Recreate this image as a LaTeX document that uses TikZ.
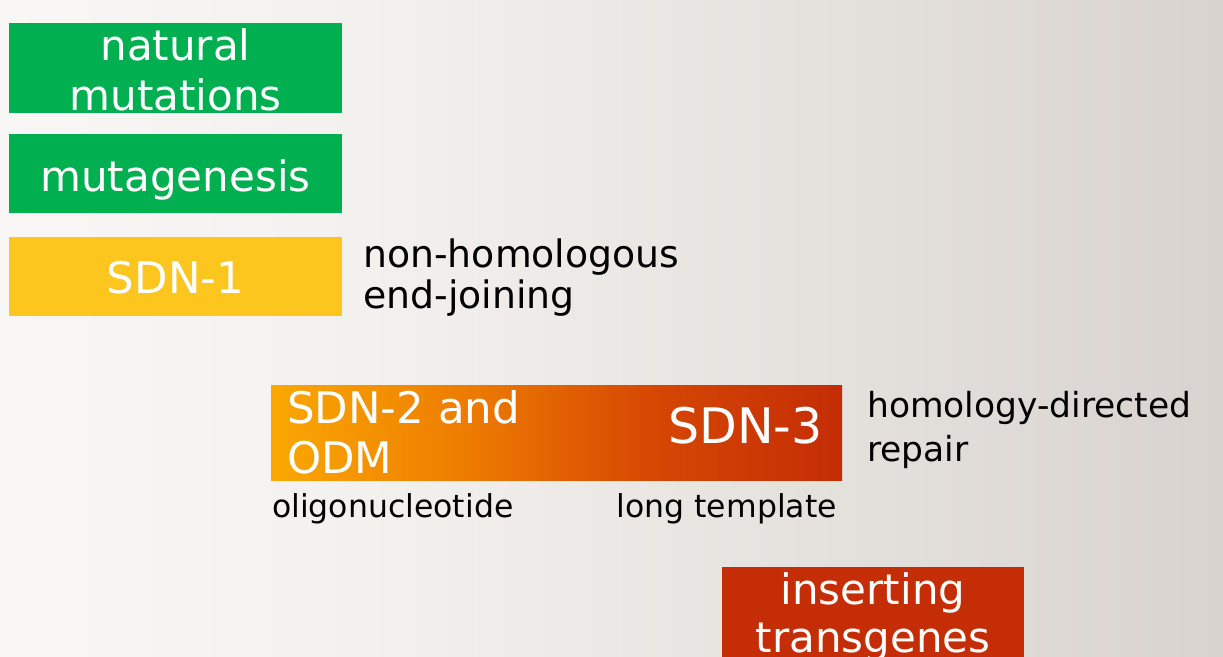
\documentclass[tikz,border=0pt]{standalone}
\usepackage{fontspec}
\setmainfont{DejaVu Sans}
\definecolor{bgL}{RGB}{249,247,245}
\definecolor{bgM}{RGB}{243,241,238}
\definecolor{bgR}{RGB}{216,211,206}
\definecolor{boxgreen}{RGB}{0,176,80}
\definecolor{boxyellow}{RGB}{252,198,30}
\definecolor{boxred}{RGB}{196,45,5}
\definecolor{orA}{RGB}{250,168,0}
\definecolor{orB}{RGB}{238,124,0}
\definecolor{orC}{RGB}{214,72,3}
\pgfdeclarehorizontalshading{bgshade}{100bp}{color(0bp)=(bgL); color(25bp)=(bgL); color(40bp)=(bgM); color(75bp)=(bgR); color(100bp)=(bgR)}
\pgfdeclarehorizontalshading{orshade}{100bp}{color(0bp)=(orA); color(25bp)=(orA); color(42bp)=(orB); color(58bp)=(orC); color(75bp)=(boxred); color(100bp)=(boxred)}
\tikzset{
  box/.style={draw=none, inner sep=0pt, minimum width=#1},
  boxtext/.style={text=white, font=\fontsize{42}{50}\selectfont, inner sep=0pt, anchor=base},
  sidetext/.style={text=black, font=\fontsize{34.5}{41}\selectfont, inner sep=0pt, anchor=base west, align=left},
  smalltext/.style={text=black, font=\fontsize{31.5}{37}\selectfont, inner sep=0pt, anchor=base},
}
\begin{document}
\begin{tikzpicture}[x=1pt,y=-1pt]
\useasboundingbox (0,0) rectangle (1223,656);
\clip (0,0) rectangle (1223,656);
\shade[shading=bgshade] (0,0) rectangle (1223,656);
% boxes
\fill[boxgreen] (9,23) rectangle (342,113);
\node[box=333pt, minimum height=90pt, anchor=north west] (bnat) at (9,23) {};
\fill[boxgreen] (9,134) rectangle (342,213);
\node[box=333pt, minimum height=79pt, anchor=north west] (bmut) at (9,134) {};
\fill[boxyellow] (9,237) rectangle (342,316);
\node[box=333pt, minimum height=79pt, anchor=north west] (bsdn1) at (9,237) {};
\shade[shading=orshade] (271,385) rectangle (842,480);
\node[box=571pt, minimum height=95pt, anchor=north west] (bsdn23) at (271,385) {};
\fill[boxred] (722,567) rectangle (1024,700);
\node[box=302pt, minimum height=133pt, anchor=north west] (bins) at (722,567) {};
% box texts
\node[boxtext] (tnat1) at (175.5,60) {natural};
\node[boxtext] (tnat2) at (175.5,110) {mutations};
\node[boxtext] (tmut) at (175.5,191) {mutagenesis};
\node[boxtext, font=\fontsize{43.5}{52}\selectfont] (tsdn1) at (175.5,293) {SDN-1};
\node[boxtext, anchor=base west, font=\fontsize{43.5}{52}\selectfont] (tsdn2a) at (287,423) {SDN-2 and};
\node[boxtext, anchor=base west, font=\fontsize{43.5}{52}\selectfont] (tsdn2b) at (287,473) {ODM};
\node[boxtext, anchor=base east, font=\fontsize{49}{57}\selectfont] (tsdn3) at (823,443) {SDN-3};
\node[boxtext] (tins1) at (873,604) {inserting};
\node[boxtext] (tins2) at (873,652) {transgenes};
% side texts
\node[sidetext, font=\fontsize{37.8}{45}\selectfont] (nh1) at (363,267) {non-homologous};
\node[sidetext, font=\fontsize{37.8}{45}\selectfont] (nh2) at (363,308) {end-joining};
\node[sidetext] (hd1) at (867,417) {homology-directed};
\node[sidetext] (hd2) at (867,461) {repair};
\node[smalltext, anchor=base west] (oligo) at (272,517) {oligonucleotide};
\node[smalltext, anchor=base east] (longt) at (837,517) {long template};
\end{tikzpicture}
\end{document}
